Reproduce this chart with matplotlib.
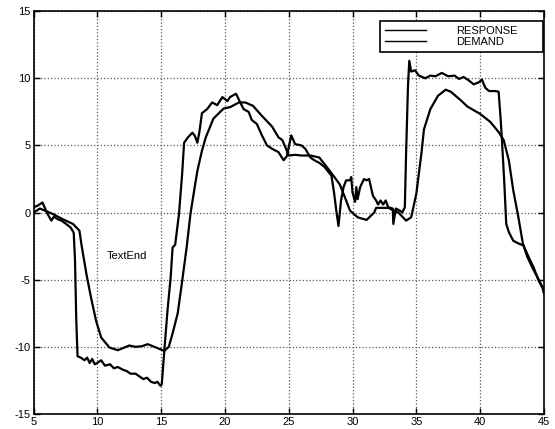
import matplotlib
matplotlib.use("Agg")
import matplotlib.pyplot as plt

# demand: the sharp, noisy trace; response: the smooth lagging trace
demand_t = [5.0, 5.3, 5.7, 6.1, 6.4, 6.6, 6.9, 7.2, 7.55, 7.9, 8.15, 8.25, 8.35, 8.45,
            8.7, 9.0, 9.2, 9.4, 9.6, 9.8, 10.0, 10.3, 10.6, 11.0, 11.3, 11.6, 12.0, 12.3,
            12.6, 13.0, 13.3, 13.6, 13.9, 14.2, 14.5, 14.7, 14.95, 15.05, 15.25, 15.5,
            15.75, 15.9, 16.1, 16.4, 16.65, 16.8, 17.1, 17.45, 17.65, 17.84, 18.0, 18.2,
            18.6, 19.0, 19.4, 19.8, 20.2, 20.4, 20.87, 21.2, 21.47, 21.86, 22.1, 22.5,
            22.9, 23.3, 23.7, 24.2, 24.6, 24.85, 25.2, 25.5, 26.0, 26.3, 26.7, 27.0,
            27.4, 27.8, 28.35, 28.55, 28.75, 28.9, 29.1, 29.3, 29.5, 29.8, 29.9, 30.0,
            30.2, 30.3, 30.4, 30.6, 30.9, 31.1, 31.3, 31.6, 31.85, 32.0, 32.2, 32.4,
            32.6, 32.8, 33.15, 33.2, 33.4, 33.7, 33.9, 34.1, 34.2, 34.35, 34.45, 34.6,
            34.9, 35.2, 35.7, 36.1, 36.5, 37.0, 37.5, 38.0, 38.35, 38.7, 39.1, 39.5,
            39.9, 40.15, 40.4, 40.7, 41.2, 41.45, 41.6, 41.7, 41.9, 42.05, 42.25, 42.6,
            43.0, 43.4, 43.8, 44.2, 44.6, 44.9, 45.0]
demand_y = [0.4, 0.5, 0.75, -0.1, -0.6, -0.3, -0.5, -0.6, -0.85, -1.1, -1.5, -3.5, -8.0, -10.7,
            -10.8, -11.0, -10.8, -11.2, -10.9, -11.3, -11.2, -11.0, -11.4, -11.3, -11.6, -11.5, -11.7, -11.8,
            -12.0, -12.0, -12.2, -12.4, -12.3, -12.6, -12.7, -12.6, -12.9, -12.8, -10.3, -7.3,
            -4.8, -2.6, -2.4, -0.1, 2.9, 5.2, 5.6, 5.95, 5.7, 5.2, 6.0, 7.4,
            7.7, 8.2, 8.0, 8.6, 8.3, 8.6, 8.85, 8.2, 7.7, 7.5, 6.9, 6.6,
            5.75, 5.0, 4.75, 4.5, 3.9, 4.2, 5.75, 5.1, 5.0, 4.75, 4.1, 3.9,
            3.7, 3.4, 2.75, 1.5, 0.0, -1.0, 0.9, 1.9, 2.4, 2.4, 2.65, 1.5,
            0.8, 1.9, 1.0, 1.9, 2.5, 2.4, 2.5, 1.25, 0.9, 0.6, 0.9, 0.6,
            0.9, 0.4, 0.3, -0.85, 0.3, 0.15, 0.0, 0.4, 4.4, 9.5, 11.3, 10.5,
            10.6, 10.2, 10.0, 10.2, 10.15, 10.4, 10.15, 10.2, 9.95, 10.1, 9.85, 9.55,
            9.7, 9.9, 9.3, 9.05, 9.05, 9.0, 7.1, 5.6, 2.15, -0.85, -1.45, -2.1,
            -2.3, -2.45, -3.3, -4.1, -5.1, -5.6, -6.0]

response_t = [5.0, 5.5, 6.0, 6.5, 7.3, 8.1, 8.6, 8.75, 9.15, 9.5, 9.9, 10.3, 10.95, 11.6,
              12.0, 12.5, 13.0, 13.5, 13.95, 14.6, 15.25, 15.6, 15.9, 16.3, 16.65, 17.0,
              17.3, 17.6, 17.84, 18.2, 18.5, 19.1, 19.9, 20.4, 21.1, 21.6, 22.2, 22.9,
              23.7, 24.2, 24.5, 24.9, 25.0, 25.5, 26.0, 26.7, 27.4, 28.1, 28.5, 29.0,
              29.4, 29.8, 30.4, 31.1, 31.7, 31.85, 32.8, 33.6, 34.2, 34.6, 35.0, 35.2,
              35.4, 35.6, 36.1, 36.7, 37.3, 37.7, 38.5, 39.0, 40.0, 40.8, 41.45, 41.85,
              42.25, 42.6, 43.0, 43.35, 43.7, 44.2, 44.6, 44.9, 45.0]
response_y = [0.0, 0.3, 0.1, -0.1, -0.5, -0.85, -1.35, -2.35, -4.6, -6.3, -8.05, -9.3, -10.05, -10.25,
              -10.1, -9.9, -10.0, -9.95, -9.8, -10.05, -10.3, -10.0, -9.0, -7.5, -5.1, -2.6,
              -0.1, 1.7, 3.1, 4.6, 5.6, 7.0, 7.75, 7.85, 8.2, 8.2, 7.95, 7.2,
              6.4, 5.6, 5.4, 4.5, 4.25, 4.3, 4.25, 4.25, 4.1, 3.25, 2.75, 2.1,
              1.15, 0.15, -0.35, -0.55, 0.0, 0.35, 0.35, 0.0, -0.6, -0.35, 1.4, 2.9,
              4.4, 6.2, 7.7, 8.7, 9.15, 9.0, 8.35, 7.9, 7.35, 6.75, 6.0, 5.4,
              3.9, 1.65, -0.35, -2.3, -3.3, -4.3, -5.0, -5.6, -5.9]

x_ticks = [5, 10, 15, 20, 25, 30, 35, 40, 45]
y_ticks = [-15, -10, -5, 0, 5, 10, 15]

plt.rcParams['font.family'] = ['Liberation Sans', 'DejaVu Sans']
plt.rcParams['font.size'] = 8
plt.rcParams['axes.unicode_minus'] = False

fig = plt.figure(figsize=(5.55, 4.29), dpi=100)
ax = fig.add_axes([0.0604, 0.035, 0.9196, 0.939])

ax.plot(demand_t, demand_y, color='black', lw=1.6, label='RESPONSE')
ax.plot(response_t, response_y, color='black', lw=1.6, label='DEMAND')

ax.set_xlim(5, 45)
ax.set_ylim(-15, 15)
ax.set_xticks(x_ticks)
ax.set_yticks(y_ticks)
ax.grid(True, linestyle=':', color='0.35', lw=0.9)
ax.tick_params(direction='in', top=True, right=True, length=4, width=1, pad=2)
for s in ax.spines.values():
    s.set_linewidth(1.2)

ax.text(10.72, -3.2, 'TextEnd', fontsize=8, va='center', ha='left')

# legend box in axes fraction: x 380..543 px, y 21..53 px
x0 = (380 - 33.5) / 510.5
x1 = (543 - 33.5) / 510.5
y0 = (414 - 53) / 403.0
y1 = (414 - 21) / 403.0
leg = ax.legend(loc='upper left', bbox_to_anchor=(x0, y0, x1 - x0, y1 - y0), mode='expand',
                fancybox=False, edgecolor='black', framealpha=1, handlelength=3.7,
                handletextpad=2.75, labelspacing=0.1, borderpad=0.45, borderaxespad=0)
leg.get_frame().set_linewidth(1.2)
for ln in leg.get_lines():
    ln.set_linewidth(1.0)

fig.savefig('out.png', dpi=100)
